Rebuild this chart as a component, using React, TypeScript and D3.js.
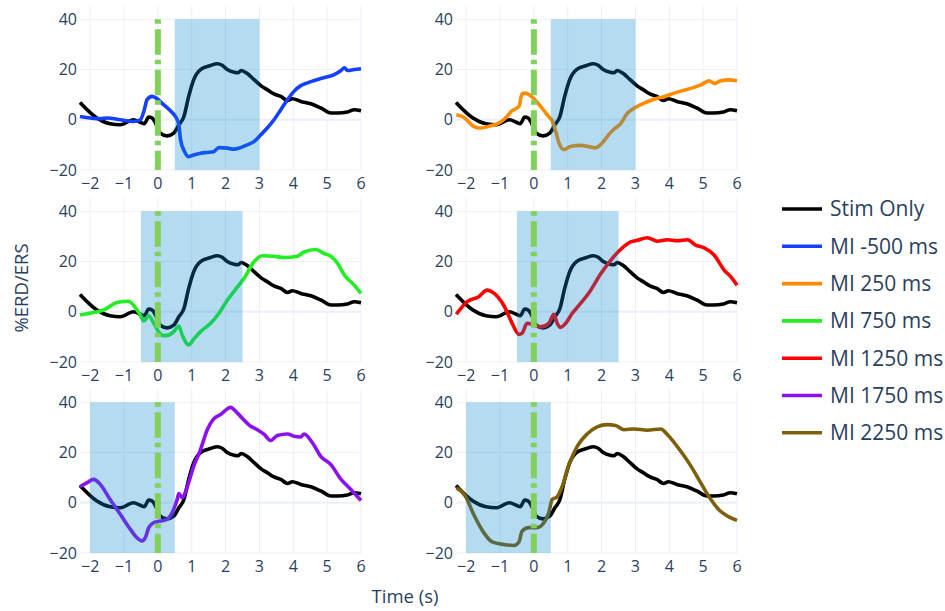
import React from "react";
import * as d3 from "d3";

// ---------- data ----------
const xTicks = [-2, -1, 0, 1, 2, 3, 4, 5, 6];
const yTicks = [-20, 0, 20, 40];

const stimT = [-2.3, -1.8, -1.41, -1.11, -0.72, -0.52, -0.4, -0.27, -0.17, -0.02, 0.07, 0.27, 0.47, 0.62, 0.77, 0.91, 1.06, 1.26, 1.56, 1.75, 1.9, 2.05, 2.25, 2.36, 2.46, 2.64, 2.84, 3.04, 3.23, 3.43, 3.63, 3.83, 3.97, 4.22, 4.52, 4.81, 5.11, 5.31, 5.6, 5.8, 6.0];
const stimV = [6.9, 0.7, -1.6, -2, 0, -1, -1.6, 1.1, 0.7, -2.7, -5.3, -6.4, -5.3, -2, 1.3, 9.3, 16, 20, 21.6, 22.3, 21.7, 20, 18.9, 18.7, 19.6, 18.4, 16, 13.6, 12, 10.3, 9.3, 7.7, 8.4, 7.3, 6.4, 4.7, 2.7, 2.7, 3.1, 4, 3.6];

const mi500T = [-2.3, -1.7, -1.5, -1.11, -0.72, -0.52, -0.4, -0.32, -0.17, -0.02, 0.17, 0.37, 0.52, 0.62, 0.67, 0.79, 0.91, 1.06, 1.26, 1.46, 1.65, 1.8, 2.05, 2.25, 2.44, 2.64, 2.84, 3.04, 3.23, 3.43, 3.63, 3.83, 4.02, 4.22, 4.42, 4.81, 5.21, 5.41, 5.51, 5.6, 5.8, 6.0];
const mi500V = [1.3, 0.4, 0.7, 0, -0.7, 0, 4, 8, 9.3, 8.4, 6, 3.6, 1.3, -2, -8, -12.7, -14.7, -14, -13.3, -13, -12.7, -11.1, -11.3, -11.7, -11.1, -10, -8.7, -6, -3.3, 0, 4, 8, 11.3, 13.6, 14.7, 16.4, 18, 19.6, 20.7, 19.6, 20, 20.3];

const mi250T = [-2.29, -2.07, -1.78, -1.58, -1.28, -0.99, -0.84, -0.64, -0.44, -0.35, -0.25, -0.05, 0.2, 0.39, 0.57, 0.66, 0.74, 0.89, 1.08, 1.38, 1.58, 1.82, 2.02, 2.17, 2.37, 2.56, 2.76, 2.96, 3.25, 3.55, 3.85, 4.14, 4.39, 4.64, 4.93, 5.18, 5.33, 5.52, 5.77, 6.0];
const mi250V = [2, 1, -2.6, -3.3, -2.4, -1, 0.7, 3.6, 5.3, 10.3, 10.6, 9, 5.3, 2, -1.3, -5.3, -9.2, -11.9, -10.6, -10.2, -10.6, -11.2, -9.2, -6.6, -3.7, -1.6, 2.6, 4.6, 6.6, 8.2, 9.2, 10.6, 11.6, 12.5, 13.9, 15.5, 14.5, 15.5, 15.9, 15.5];

const mi750T = [-2.3, -1.9, -1.6, -1.21, -0.86, -0.72, -0.52, -0.42, -0.27, -0.12, 0.02, 0.17, 0.32, 0.47, 0.62, 0.72, 0.91, 1.06, 1.26, 1.56, 1.8, 2.05, 2.35, 2.54, 2.84, 3.09, 3.43, 3.73, 4.12, 4.32, 4.67, 4.91, 5.11, 5.31, 5.51, 5.8, 6.0];
const mi750V = [-1.3, -0.3, 0.7, 3.7, 4.2, 2.6, -1.3, -3.7, -1.6, -4.6, -7.9, -9.5, -9.3, -7.9, -5.7, -9.3, -13.2, -10.9, -7.9, -4.6, -0.7, 4.6, 9.9, 13.2, 19.9, 22.3, 22.1, 21.6, 22.1, 23.8, 24.8, 23.2, 22.1, 19.2, 14.6, 10.6, 7.3];

const mi1250T = [-2.29, -1.97, -1.63, -1.38, -1.23, -0.89, -0.64, -0.44, -0.35, -0.2, -0.05, 0.2, 0.44, 0.59, 0.69, 0.79, 0.94, 1.13, 1.38, 1.68, 1.97, 2.27, 2.56, 2.86, 3.06, 3.35, 3.65, 3.94, 4.24, 4.54, 4.78, 5.03, 5.33, 5.62, 5.82, 6.0];
const mi1250V = [-1, 4, 6, 8.6, 7.9, 2.6, -4.6, -9, -8.6, -4.6, -5, -6, -4.6, -1, -4.6, -6.2, -4.6, -0.7, 3.3, 8.6, 15, 20.5, 24.8, 27.8, 28.5, 29.5, 28.1, 28.7, 28.3, 28.7, 26.5, 25.4, 22.5, 16.6, 13.9, 10.6];

const mi1750T = [-2.3, -2.1, -1.9, -1.7, -1.41, -1.11, -0.81, -0.62, -0.47, -0.37, -0.27, -0.12, 0.07, 0.27, 0.42, 0.57, 0.62, 0.72, 0.86, 1.06, 1.26, 1.46, 1.65, 1.85, 2.15, 2.25, 2.44, 2.74, 2.94, 3.14, 3.33, 3.53, 3.83, 4.02, 4.22, 4.32, 4.57, 4.81, 5.11, 5.41, 5.7, 6.0];
const mi1750V = [6.4, 7.9, 9.3, 7.3, 1.3, -4.6, -10.6, -13.9, -15.2, -13.9, -9.9, -7.9, -7.3, -6.6, -4, 1.3, 3.7, 2, 6, 14.6, 21.2, 29.1, 33.4, 35.1, 38, 37.1, 34.4, 30.5, 29.1, 27.2, 24.8, 26.8, 27.4, 26.5, 26.2, 27.4, 23.8, 18.5, 15.2, 9.3, 5.3, 0.9];

const mi2250T = [-2.29, -2.02, -1.78, -1.48, -1.23, -0.89, -0.59, -0.44, -0.35, -0.15, 0.1, 0.3, 0.44, 0.54, 0.69, 0.84, 1.04, 1.28, 1.58, 1.87, 2.17, 2.41, 2.66, 2.96, 3.35, 3.75, 3.94, 4.34, 4.64, 4.93, 5.23, 5.48, 5.72, 6.0];
const mi2250V = [6, 2.6, -4.6, -11.9, -15.6, -16.6, -17, -15.6, -11.3, -9.9, -9.9, -7.9, -4, 1.3, 2.4, 6.6, 15.2, 22.5, 27.5, 30.2, 31.1, 30.8, 29.1, 29.4, 28.9, 29.4, 27.2, 20.5, 14.6, 7.9, 1.3, -3, -5.3, -7];

const seriesNames = ["Stim Only", "MI -500 ms", "MI 250 ms", "MI 750 ms", "MI 1250 ms", "MI 1750 ms", "MI 2250 ms"];
const seriesColors = ["#000000", "#1440ff", "#ff8c00", "#22ee22", "#ff0000", "#8c10f0", "#7f5f0a"];
const seriesT = [stimT, mi500T, mi250T, mi750T, mi1250T, mi1750T, mi2250T];
const seriesV = [stimV, mi500V, mi250V, mi750V, mi1250V, mi1750V, mi2250V];

// MI window per panel [start, end] in seconds
const windowStart = [0.5, 0.5, -0.5, -0.5, -2.0, -2.0];
const windowEnd = [3.0, 3.0, 2.5, 2.5, 0.5, 0.5];

// ---------- layout ----------
const W = 945;
const H = 611;
const colLeft = [80, 456];
const plotW = 281;
const rowBottom = [170, 362, 553];
const plotH = 164.5;
const xDomain: [number, number] = [-2.3, 6];
const yDomain: [number, number] = [-20, 45.5];

const textColor = "#2a3f5f";
const gridColor = "#EBF0F8";
const font = "'Open Sans', 'Noto Sans', sans-serif";

function Panel({ idx }: { idx: number }) {
  const col = idx % 2;
  const row = Math.floor(idx / 2);
  const left = colLeft[col];
  const bottom = rowBottom[row];
  const x = d3.scaleLinear().domain(xDomain).range([left, left + plotW]);
  const y = d3.scaleLinear().domain(yDomain).range([bottom, bottom - plotH]);
  const mk = (si: number) =>
    d3
      .line<[number, number]>()
      .x((d) => x(d[0]))
      .y((d) => y(d[1]))
      .curve(d3.curveMonotoneX)(seriesT[si].map((t, i) => [t, seriesV[si][i]]) as [number, number][]) || "";
  const si = idx + 1;
  return (
    <g>
      {xTicks.map((t) => (
        <line key={"gx" + t} x1={x(t)} x2={x(t)} y1={bottom - plotH} y2={bottom} stroke={gridColor} strokeWidth={1} />
      ))}
      {yTicks.map((v) => (
        <line key={"gy" + v} x1={left} x2={left + plotW} y1={y(v)} y2={y(v)} stroke={gridColor} strokeWidth={v === 0 ? 2 : 1} />
      ))}
      <path d={mk(0)} fill="none" stroke={seriesColors[0]} strokeWidth={3.6} strokeLinejoin="round" />
      <path d={mk(si)} fill="none" stroke={seriesColors[si]} strokeWidth={3.6} strokeLinejoin="round" />
      <rect
        x={x(windowStart[idx])}
        width={x(windowEnd[idx]) - x(windowStart[idx])}
        y={y(40)}
        height={y(-20) - y(40)}
        fill="rgb(5,135,205)"
        fillOpacity={0.3}
      />
      <line
        x1={x(0)}
        x2={x(0)}
        y1={y(40)}
        y2={y(-20)}
        stroke="#80d05a"
        strokeWidth={6}
        strokeDasharray="4.5,5.5,25.5,5"
      />
      {yTicks.map((v) => (
        <text key={"ty" + v} x={left - 3} y={y(v)} dy="0.35em" textAnchor="end" fontSize={16} fill={textColor} fontFamily={font}>
          {v < 0 ? "\u2212" + Math.abs(v) : String(v)}
        </text>
      ))}
      {xTicks.map((t) => (
        <text key={"tx" + t} x={x(t)} y={bottom + 18.5} textAnchor="middle" fontSize={16} fill={textColor} fontFamily={font}>
          {t < 0 ? "\u2212" + Math.abs(t) : String(t)}
        </text>
      ))}
    </g>
  );
}

export default function App() {
  return (
    <svg
      width={W}
      height={H}
      viewBox={`0 0 ${W} ${H}`}
      style={{ position: "absolute", left: 0, top: 0, background: "#fff", display: "block" }}
    >
      <rect x={0} y={0} width={W} height={H} fill="#fff" />
      {[0, 1, 2, 3, 4, 5].map((i) => (
        <Panel key={i} idx={i} />
      ))}
      <text
        transform="translate(28,288) rotate(-90)"
        textAnchor="middle"
        fontSize={18.5}
        fill={textColor}
        fontFamily={font}
      >
        %ERD/ERS
      </text>
      <text x={405} y={603} textAnchor="middle" fontSize={18.5} fill={textColor} fontFamily={font}>
        Time (s)
      </text>
      {seriesNames.map((n, i) => {
        const ly = 209 + i * 37.3;
        return (
          <g key={n}>
            <line x1={782} x2={822} y1={ly} y2={ly} stroke={seriesColors[i]} strokeWidth={3.6} />
            <text x={830} y={ly} dy="0.35em" fontSize={21} fill={textColor} fontFamily={font}>
              {n}
            </text>
          </g>
        );
      })}
    </svg>
  );
}
